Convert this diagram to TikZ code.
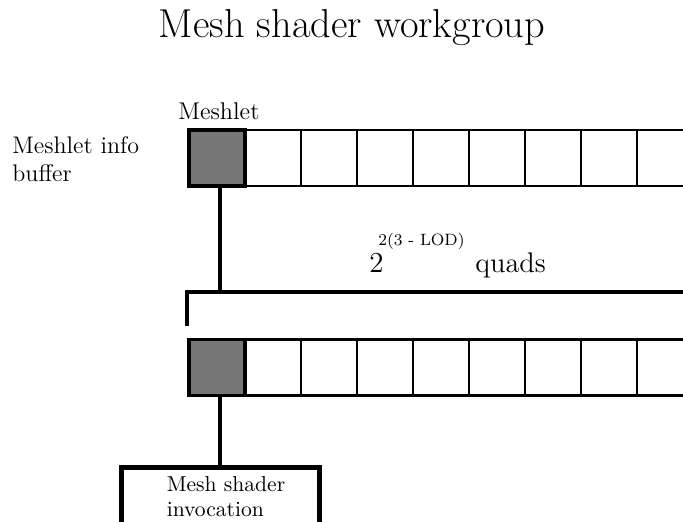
\documentclass[tikz,border=0pt]{standalone}
\usepackage{xcolor}
\usepackage{tikz}
\usetikzlibrary{calc}
\definecolor{meshgray}{RGB}{119,119,119}
\tikzset{ buf_cell/.style = {rectangle, draw, line width=1.4pt, minimum width=28pt, minimum height=28pt, inner sep=0pt} }
\tikzset{ sel_cell/.style = {buf_cell, fill=meshgray, line width=1.6pt} }
\tikzset{ link/.style = {line width=2pt} }
\tikzset{ txt/.style = {inner sep=0pt, font=\fontsize{12}{14}\selectfont} }

\begin{document}
\begin{tikzpicture}[x=0.5pt, y=-0.5pt]
            \useasboundingbox (0,0) rectangle (683,521);
            \clip (0,0) rectangle (683,521);
            \node[inner sep=0pt, anchor=base, font=\fontsize{20.2}{24}\selectfont] (title) at (352,37) {Mesh shader workgroup};
            \node[txt, anchor=north west, align=left] (info) at (12,136) {Meshlet info\\buffer};
            \node[txt, anchor=base west, font=\fontsize{12.1}{14}\selectfont] (lbl) at (178,119) {Meshlet};
            % meshlet buffer and quad buffer
            \foreach \k in {1,...,9} {
                \node[buf_cell] (m\k) at (217+56*\k, 158) {};
                \node[buf_cell] (s\k) at (217+56*\k, 367.5) {};
            }
            \node[sel_cell] (m0) at (217,158) {};
            \node[sel_cell] (s0) at (217,367.5) {};
            % bracket over the quads
            \coordinate (bl) at (187,326);
            \coordinate (bc) at (187,292);
            \coordinate (br) at (700,292);
            \draw[link] (bl) -- (bc) -- (br);
            \node[inner sep=0pt, anchor=base west, font=\fontsize{14.5}{16}\selectfont] (two) at (369,272) {2};
            \node[inner sep=0pt, anchor=base west, font=\fontsize{8.2}{10}\selectfont] (expo) at (378,245) {2(3 - LOD)};
            \node[inner sep=0pt, anchor=base west, font=\fontsize{14.2}{16}\selectfont] (quads) at (475,272) {quads};
            % invocation
            \node[rectangle, draw, line width=2.5pt, minimum width=99pt, minimum height=30pt, align=left, font=\fontsize{10.8}{12.5}\selectfont] (inv) at (220,497) {\hspace*{6pt}Mesh shader\\\hspace*{6pt}invocation};
            \draw[link] (m0.south -| inv.north) -- (bc -| inv.north);
            \draw[link] (s0.south -| inv.north) -- (inv.north);
        \end{tikzpicture}
\end{document}
